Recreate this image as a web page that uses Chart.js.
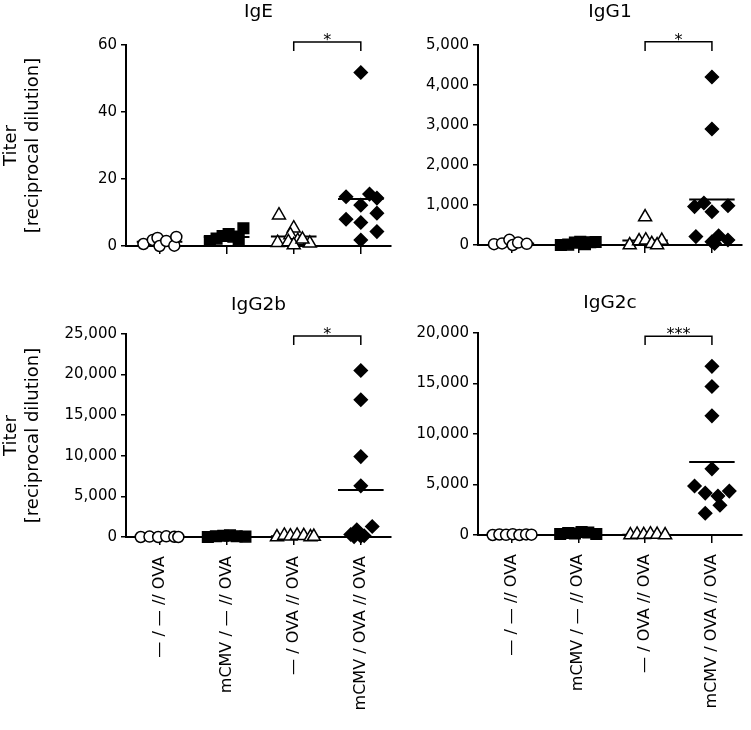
<!DOCTYPE html>
<html>
<head>
<meta charset="utf-8">
<script src="https://cdn.jsdelivr.net/npm/chart.js@4.4.1/dist/chart.umd.min.js"></script>
<style>
  body { margin: 0; background: #fff; }
  #wrap { position: relative; width: 751px; height: 730px; }
  canvas { position: absolute; }
</style>
</head>
<body>
<div id="wrap">
  <canvas id="ige" width="400" height="270" style="left:0;top:0"></canvas>
  <canvas id="igg1" width="375" height="270" style="left:376px;top:0"></canvas>
  <canvas id="igg2b" width="400" height="460" style="left:0;top:270px"></canvas>
  <canvas id="igg2c" width="375" height="460" style="left:376px;top:270px"></canvas>
</div>
<script>
const groups = ['— / — // OVA', 'mCMV / — // OVA', '— / OVA // OVA', 'mCMV / OVA // OVA'];

// IgE
const igeValues = [
  [0.6, 1.8, 2.4, 0.0, 1.5, 0.1, 2.7],
  [1.5, 2.2, 3.0, 3.6, 2.8, 1.9, 5.3],
  [9.2, 5.3, 3.3, 1.0, 1.2, 1.6, 0.3, 0.8, 2.0],
  [51.8, 14.7, 15.5, 14.3, 12.2, 9.8, 8.0, 7.0, 4.3, 1.8],
];
const igeJitter = [
  [-0.24, -0.1, -0.03, 0, 0.1, 0.22, 0.25],
  [-0.25, -0.15, -0.06, 0.03, 0.1, 0.18, 0.25],
  [-0.22, 0, -0.05, -0.24, -0.08, 0.06, 0, 0.24, 0.13],
  [0, -0.22, 0.13, 0.24, 0, 0.24, -0.22, 0, 0.24, 0],
];
const igeMeans = [1.3, 2.7, 2.8, 14.0];

// IgG1
const igg1Values = [
  [20, 40, 130, 0, 60, 30],
  [0, 10, 60, 80, 20, 70, 75],
  [0, 100, 120, 30, 110, 0, 700],
  [4200, 2900, 960, 1050, 830, 980, 210, 80, 230, 125, 40],
];
const igg1Jitter = [
  [-0.26, -0.14, -0.03, 0.02, 0.1, 0.23],
  [-0.26, -0.15, -0.05, 0.03, 0.1, 0.18, 0.26],
  [-0.23, -0.09, 0.01, 0.1, 0.25, 0.18, 0],
  [0, 0, -0.26, -0.12, 0, 0.24, -0.24, 0, 0.1, 0.24, 0.04],
];
const igg1Means = [40, 50, 110, 1140];

// IgG2b
const igg2bValues = [
  [0, 50, 0, 80, 30, 0],
  [0, 100, 150, 200, 100, 50],
  [0, 200, 100, 200, 150, 0, 50],
  [20500, 16900, 9900, 6300, 300, 900, 100, 1300, 50, 150],
];
const igg2bJitter = [
  [-0.28, -0.15, -0.02, 0.1, 0.22, 0.28],
  [-0.28, -0.16, -0.05, 0.05, 0.15, 0.28],
  [-0.25, -0.14, -0.05, 0.05, 0.15, 0.25, 0.3],
  [0, 0, 0, 0, -0.15, -0.06, 0, 0.17, -0.1, 0.05],
];
const igg2bMeans = [30, 100, 100, 5800];

// IgG2c
const igg2cValues = [
  [0, 50, 20, 80, 0, 60, 30],
  [100, 200, 150, 300, 250, 100],
  [0, 60, 20, 80, 40, 0],
  [16700, 14700, 11800, 6550, 4850, 4150, 4350, 3850, 2950, 2150],
];
const igg2cJitter = [
  [-0.28, -0.18, -0.08, 0.02, 0.12, 0.22, 0.3],
  [-0.27, -0.15, -0.05, 0.05, 0.15, 0.27],
  [-0.22, -0.12, -0.02, 0.08, 0.18, 0.3],
  [0, 0, 0, 0, -0.26, -0.1, 0.26, 0.09, 0.12, -0.1],
];
const igg2cMeans = [40, 180, 30, 7230];

// significance brackets: [top, leg end] in axis units
const igeBracket = [60.9, 58.2];
const igg1Bracket = [5080, 4850];
const igg2bBracket = [24750, 23650];
const igg2cBracket = [19680, 18800];
const sigLabels = ['*', '*', '*', '***'];

const markers = [
  { style: 'circle', radius: 5.5, fill: '#fff' },
  { style: 'rect', radius: 7.5, fill: '#000' },
  { style: 'triangle', radius: 7.5, fill: '#fff' },
  { style: 'rectRot', radius: 6.5, fill: '#000' },
];

const FONT = '"DejaVu Sans", "Liberation Sans", Arial, sans-serif';
Chart.defaults.font.family = FONT;
Chart.defaults.color = '#000';

const sigPlugin = {
  id: 'sig',
  afterDatasetsDraw(chart, args, opts) {
    const { ctx } = chart;
    const x = chart.scales.x;
    const y = chart.scales.y;
    ctx.save();
    ctx.fillStyle = '#000';
    ctx.font = '16px ' + FONT;
    ctx.textAlign = 'center';
    ctx.textBaseline = 'alphabetic';
    ctx.fillText(opts.label, x.getPixelForValue(2.5), y.getPixelForValue(opts.top) + 3);
    ctx.restore();
  },
};

function makePanel(id, cfg) {
  const datasets = [];
  groups.forEach((g, i) => {
    datasets.push({
      label: g,
      data: cfg.values[i].map((v, j) => ({ x: i + cfg.jitter[i][j], y: v })),
      pointStyle: markers[i].style,
      pointRadius: markers[i].radius,
      pointHoverRadius: markers[i].radius,
      backgroundColor: markers[i].fill,
      borderColor: '#000',
      borderWidth: 1.5,
      clip: false,
    });
  });
  groups.forEach((g, i) => {
    datasets.push({
      label: 'mean',
      data: [{ x: i - 0.34, y: cfg.means[i] }, { x: i + 0.34, y: cfg.means[i] }],
      showLine: true,
      borderColor: '#000',
      borderWidth: 2,
      pointRadius: 0,
      clip: false,
    });
  });
  datasets.push({
    label: 'bracket',
    data: [
      { x: 2, y: cfg.bracket[1] },
      { x: 2, y: cfg.bracket[0] },
      { x: 3, y: cfg.bracket[0] },
      { x: 3, y: cfg.bracket[1] },
    ],
    showLine: true,
    borderColor: '#000',
    borderWidth: 1.5,
    pointRadius: 0,
    clip: false,
  });

  return new Chart(document.getElementById(id), {
    type: 'scatter',
    data: { datasets },
    plugins: [sigPlugin],
    options: {
      responsive: false,
      animation: false,
      events: [],
      layout: { padding: { left: 0, right: cfg.padRight, top: 0, bottom: 0 } },
      plugins: {
        legend: { display: false },
        tooltip: { enabled: false },
        title: {
          display: true,
          fullSize: false,
          text: cfg.title,
          font: { size: 18.5, weight: 'normal', lineHeight: 1.2 },
          padding: { top: cfg.titleTop, bottom: cfg.titleBottom },
        },
        sig: { label: cfg.sig, top: cfg.bracket[0] },
      },
      scales: {
        x: {
          type: 'linear',
          min: -0.5,
          max: 3.45,
          afterBuildTicks: (scale) => {
            scale.ticks = groups.map((g, i) => ({ value: i }));
          },
          afterFit: (scale) => {
            scale.height = cfg.xHeight;
          },
          border: { display: true, color: '#000', width: 2 },
          grid: { drawOnChartArea: false, drawTicks: true, tickLength: 8, color: '#000', lineWidth: 1.5 },
          ticks: {
            display: cfg.showGroups,
            autoSkip: false,
            minRotation: 90,
            maxRotation: 90,
            padding: 11,
            font: { size: 16 },
            callback: (value) => groups[value],
          },
        },
        y: {
          min: 0,
          max: cfg.max,
          afterFit: (scale) => {
            scale.width = cfg.axisWidth;
          },
          border: { display: true, color: '#000', width: 2 },
          grid: { drawOnChartArea: false, drawTicks: true, tickLength: 5, color: '#000', lineWidth: 1.5 },
          ticks: {
            stepSize: cfg.step,
            padding: 4,
            font: { size: 15 },
            callback: (value) => value.toLocaleString('en-US'),
          },
          title: {
            display: cfg.showTitle,
            text: ['Titer', '[reciprocal dilution]'],
            font: { size: 18, lineHeight: 1.22 },
            padding: 0,
          },
        },
      },
    },
  });
}

makePanel('ige', {
  title: 'IgE', values: igeValues, jitter: igeJitter, means: igeMeans,
  bracket: igeBracket, sig: sigLabels[0], max: 60, step: 20,
  axisWidth: 126, xHeight: 24, padRight: 9, titleTop: 0.9, titleBottom: 21.9,
  showTitle: true, showGroups: false,
});
makePanel('igg1', {
  title: 'IgG1', values: igg1Values, jitter: igg1Jitter, means: igg1Means,
  bracket: igg1Bracket, sig: sigLabels[1], max: 5000, step: 1000,
  axisWidth: 102, xHeight: 25, padRight: 9, titleTop: 0.9, titleBottom: 21.9,
  showTitle: false, showGroups: false,
});
makePanel('igg2b', {
  title: 'IgG2b', values: igg2bValues, jitter: igg2bJitter, means: igg2bMeans,
  bracket: igg2bBracket, sig: sigLabels[2], max: 25000, step: 5000,
  axisWidth: 126, xHeight: 193, padRight: 9, titleTop: 23.9, titleBottom: 17.9,
  showTitle: true, showGroups: true,
});
makePanel('igg2c', {
  title: 'IgG2c', values: igg2cValues, jitter: igg2cJitter, means: igg2cMeans,
  bracket: igg2cBracket, sig: sigLabels[3], max: 20000, step: 5000,
  axisWidth: 102, xHeight: 195, padRight: 9, titleTop: 21.9, titleBottom: 18.9,
  showTitle: false, showGroups: true,
});
</script>
</body>
</html>
